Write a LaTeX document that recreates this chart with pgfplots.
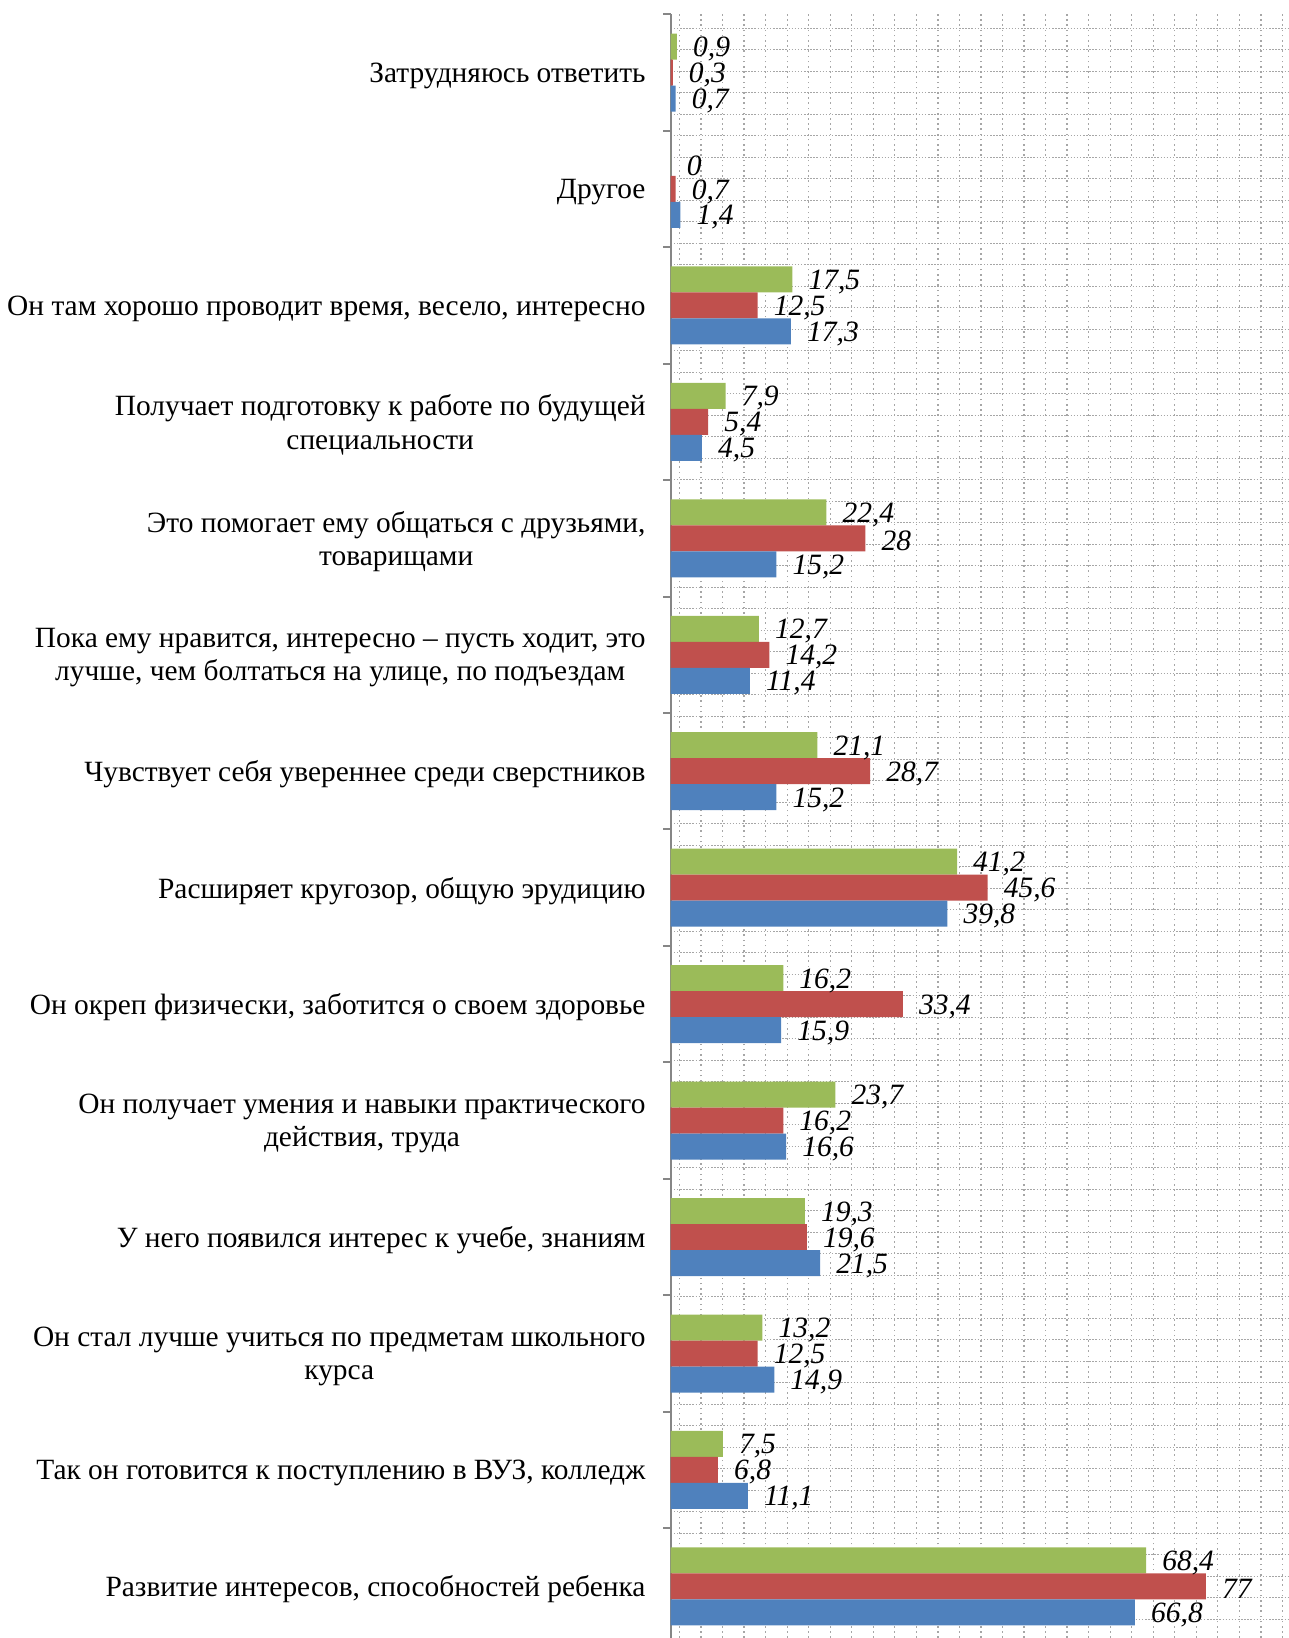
\documentclass[border=0pt]{standalone}
\usepackage{fontspec}
\setmainfont{Liberation Serif}
\usepackage{pgfplots}
\pgfplotsset{compat=1.18}
\definecolor{cgreen}{HTML}{9BBB59}
\definecolor{cred}{HTML}{C0504D}
\definecolor{cblue}{HTML}{4F81BD}
\definecolor{caxis}{HTML}{868686}
\definecolor{cgrid}{HTML}{A6A6A6}
\begin{document}
\begin{tikzpicture}
\begin{axis}[
  at={(670.7pt,0pt)}, anchor=south west,
  scale only axis, width=617.3pt, height=1623.7pt,
  xmin=0, xmax=88.82, ymin=-0.443, ymax=13.5,
  xbar, bar width=26pt,
  axis lines*=left,
  axis line style={-},
  x axis line style={draw=none},
  y axis line style={draw=caxis, line width=2.2pt},
  xtick={1.27,4.368,...,88.7},
  xticklabels={},
  xmajorgrids=true,
  major x grid style={draw=cgrid, line width=1.3pt, dash pattern=on 1.6pt off 3.6pt},
  ytick={0,...,13},
  yticklabels={
    {Развитие интересов, способностей ребенка},
    {Так он готовится к поступлению в ВУЗ, колледж},
    {Он стал лучше учиться по предметам школьного\\курса},
    {У него появился интерес к учебе, знаниям},
    {Он получает умения и навыки практического\\действия, труда},
    {Он окреп физически, заботится о своем здоровье},
    {Расширяет кругозор, общую эрудицию},
    {Чувствует себя увереннее среди сверстников},
    {Пока ему нравится, интересно – пусть ходит, это\\лучше, чем болтаться на улице, по подъездам},
    {Это помогает ему общаться с друзьями,\\товарищами},
    {Получает подготовку к работе по будущей\\специальности},
    {Он там хорошо проводит время, весело, интересно},
    {Другое},
    {Затрудняюсь ответить}},
  yticklabel style={font=\fontsize{29.4}{33.4}\selectfont, align=center, inner sep=0pt, xshift=-25pt, yshift=-3pt},
  major tick length=0pt,
  minor ytick={-0.2826,-0.09797,...,13.45},
  minor tick length=0pt,
  yminorgrids=true,
  minor y grid style={draw=cgrid, line width=1.3pt, dash pattern=on 1.5pt off 1.6pt},
  extra y ticks={0.5,1.5,...,13.5},
  extra y tick labels={},
  extra y tick style={tick align=outside, major tick length=7.4pt, ymajorgrids=false, tick style={draw=caxis, line width=2pt}},
  nodes near coords,
  nodes near coords style={font=\fontsize{29.5}{33}\selectfont\itshape, anchor=west, inner sep=0pt, xshift=16pt, yshift=-2.5pt},
  /pgf/number format/use comma,
  /pgf/number format/assume math mode=true,
]
\addplot[fill=cgreen, draw=none, bar shift=26pt] coordinates {
  (68.4,0) (7.5,1) (13.2,2) (19.3,3) (23.7,4) (16.2,5) (41.2,6)
  (21.1,7) (12.7,8) (22.4,9) (7.9,10) (17.5,11) (0,12) (0.9,13)};
\addplot[fill=cred, draw=none, bar shift=0pt] coordinates {
  (77,0) (6.8,1) (12.5,2) (19.6,3) (16.2,4) (33.4,5) (45.6,6)
  (28.7,7) (14.2,8) (28,9) (5.4,10) (12.5,11) (0.7,12) (0.3,13)};
\addplot[fill=cblue, draw=none, bar shift=-26pt] coordinates {
  (66.8,0) (11.1,1) (14.9,2) (21.5,3) (16.6,4) (15.9,5) (39.8,6)
  (15.2,7) (11.4,8) (15.2,9) (4.5,10) (17.3,11) (1.4,12) (0.7,13)};
\end{axis}
\pgfresetboundingbox
\path[use as bounding box] (0,0) rectangle (1288pt,1638pt);
\end{tikzpicture}
\end{document}
